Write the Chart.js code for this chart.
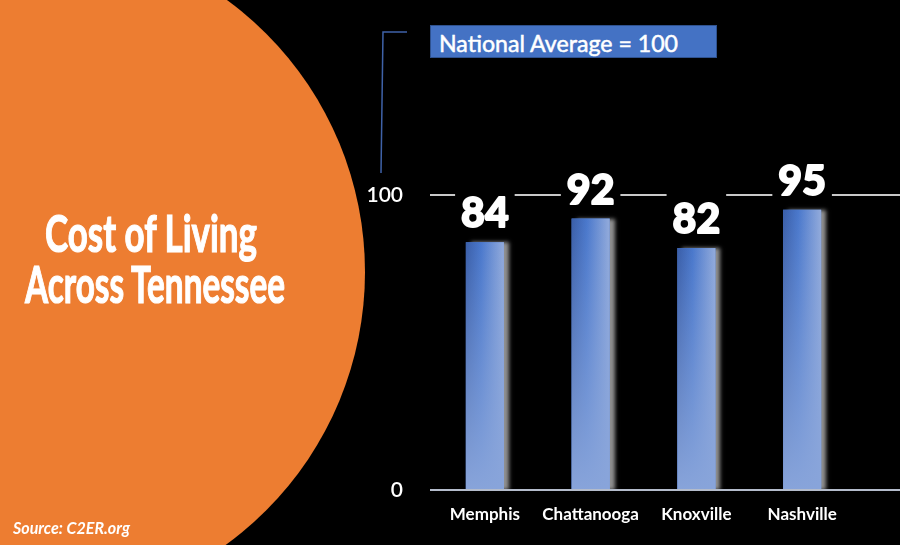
<!DOCTYPE html>
<html lang="en">
<head>
<meta charset="UTF-8">
<title>Cost of Living Across Tennessee</title>
<script src="https://cdn.jsdelivr.net/npm/chart.js"></script>
<style>
  html, body { margin: 0; padding: 0; background: #000; }
  #wrap { position: relative; width: 900px; height: 545px; overflow: hidden; }
  canvas { position: absolute; left: 0; top: 0; }
  .fit {
    position: absolute;
    white-space: nowrap;
    line-height: 1;
    color: #fff;
    font-family: Lato, "Open Sans", sans-serif;
    transform-origin: 0 0;
  }
  .title { font-size: 52px; font-weight: bold; -webkit-text-stroke: 1.2px #fff; }
  #source { font-size: 17px; font-weight: bold; font-style: italic; }
  #avgBox {
    position: absolute;
    left: 430px; top: 25px;
    width: 287px; height: 33px;
    box-sizing: border-box;
    background: #4472c4;
    border: 1px solid #2f528f;
  }
  #avgText { font-size: 23px; left: 8px; top: 6px; -webkit-text-stroke: 0.5px #fff; }
</style>
</head>
<body>
<div id="wrap">
  <canvas id="chart" width="900" height="545"></canvas>
  <div class="fit title" data-w="212" style="left:45px; top:206px;">Cost of Living</div>
  <div class="fit title" data-w="260" style="left:25px; top:257px;">Across Tennessee</div>
  <div class="fit" id="source" data-w="117" style="left:13px; top:519px;">Source: C2ER.org</div>
  <div id="avgBox"><div class="fit" id="avgText" data-w="239">National Average = 100</div></div>
</div>

<script>
  // data
  const cities = ['Memphis', 'Chattanooga', 'Knoxville', 'Nashville'];
  const costIndex = [84, 92, 82, 95];
  const yTicks = [0, 100];

  // squeeze text lines to the width they take in the original (condensed face)
  document.querySelectorAll('.fit').forEach(el => {
    const w = el.getBoundingClientRect().width;
    el.style.transform = 'scaleX(' + (el.dataset.w / w) + ')';
  });

  const decor = {
    id: 'decor',
    beforeDraw(chart) {
      const ctx = chart.ctx;
      ctx.save();
      ctx.fillStyle = '#000';
      ctx.fillRect(0, 0, chart.width, chart.height);
      // orange disc on the left
      ctx.fillStyle = '#ed7d31';
      ctx.beginPath();
      ctx.arc(28, 272, 337, 0, Math.PI * 2);
      ctx.fill();
      // bracket leading to the legend box
      ctx.strokeStyle = '#3f62a8';
      ctx.lineWidth = 1.5;
      ctx.beginPath();
      ctx.moveTo(407, 32);
      ctx.lineTo(383, 32);
      ctx.lineTo(381, 173);
      ctx.stroke();
      ctx.restore();
    },
    beforeDatasetsDraw(chart) {
      const ctx = chart.ctx;
      ctx.save();
      ctx.shadowColor = 'rgba(170,170,170,0.85)';
      ctx.shadowOffsetX = 5;
      ctx.shadowOffsetY = 0;
      ctx.shadowBlur = 4;
    },
    afterDatasetsDraw(chart) {
      const ctx = chart.ctx;
      ctx.restore();
      const meta = chart.getDatasetMeta(0);
      const ys = chart.scales.y;
      const left = chart.chartArea.left - 2;

      // shading of the bars: left-right sheen fading to flat light blue at the bottom
      meta.data.forEach(bar => {
        const p = bar.getProps(['x', 'y', 'base', 'width'], true);
        const x0 = p.x - p.width / 2, x1 = p.x + p.width / 2;
        const h = ctx.createLinearGradient(x0, 0, x1, 0);
        h.addColorStop(0, '#3a5ea8');
        h.addColorStop(0.4, '#4a78cc');
        h.addColorStop(1, '#93abdb');
        ctx.fillStyle = h;
        ctx.fillRect(x0, p.y, p.width, p.base - p.y);
        const v = ctx.createLinearGradient(0, p.y, 0, p.base);
        v.addColorStop(0, 'rgba(136,164,218,0)');
        v.addColorStop(1, 'rgba(136,164,218,1)');
        ctx.fillStyle = v;
        ctx.fillRect(x0, p.y, p.width, p.base - p.y);
      });

      ctx.save();
      // lines at 0 and 100
      ctx.lineWidth = 2;
      ctx.strokeStyle = '#b4bccb';
      ctx.beginPath();
      ctx.moveTo(left, Math.round(ys.getPixelForValue(0)));
      ctx.lineTo(chart.width, Math.round(ys.getPixelForValue(0)));
      ctx.stroke();
      ctx.strokeStyle = '#c8c8c8';
      ctx.beginPath();
      ctx.moveTo(left, Math.round(ys.getPixelForValue(100)));
      ctx.lineTo(chart.width, Math.round(ys.getPixelForValue(100)));
      ctx.stroke();

      // value labels on black plates
      ctx.font = '900 41px Lato, sans-serif';
      ctx.textAlign = 'center';
      ctx.textBaseline = 'alphabetic';
      ctx.lineJoin = 'round';
      meta.data.forEach((bar, i) => {
        const txt = String(costIndex[i]);
        const base = bar.y - 15;
        const w = ctx.measureText(txt).width;
        ctx.fillStyle = '#000';
        ctx.fillRect(bar.x - w / 2 - 6, base - 42, w + 12, 46);
        ctx.lineWidth = 6;
        ctx.strokeStyle = '#000';
        ctx.strokeText(txt, bar.x, base);
        ctx.fillStyle = '#fff';
        ctx.fillText(txt, bar.x, base);
        ctx.lineWidth = 1.8;
        ctx.strokeStyle = '#fff';
        ctx.strokeText(txt, bar.x, base);
      });
      ctx.restore();
    }
  };

  new Chart(document.getElementById('chart'), {
    type: 'bar',
    data: {
      labels: cities,
      datasets: [{
        data: costIndex,
        backgroundColor: '#4a78cc',
        borderWidth: 0,
        barPercentage: 0.36,
        categoryPercentage: 1
      }]
    },
    options: {
      responsive: false,
      devicePixelRatio: 1,
      animation: false,
      layout: { padding: { left: 362, right: 45, top: 195, bottom: 0 } },
      plugins: { legend: { display: false }, tooltip: { enabled: false } },
      scales: {
        y: {
          min: 0,
          max: 100,
          afterBuildTicks: s => { s.ticks = yTicks.map(v => ({ value: v })); },
          afterFit: s => { s.width = 70; },
          grid: { display: false },
          border: { display: false },
          ticks: { color: '#fff', padding: 21, font: { family: 'Lato', size: 21, weight: '600' } }
        },
        x: {
          afterFit: s => { s.height = 55; },
          grid: { display: false },
          border: { display: false },
          ticks: { color: '#fff', padding: 6, maxRotation: 0, font: { family: 'Lato', size: 17, weight: 'bold' } }
        }
      }
    },
    plugins: [decor]
  });
</script>
</body>
</html>
